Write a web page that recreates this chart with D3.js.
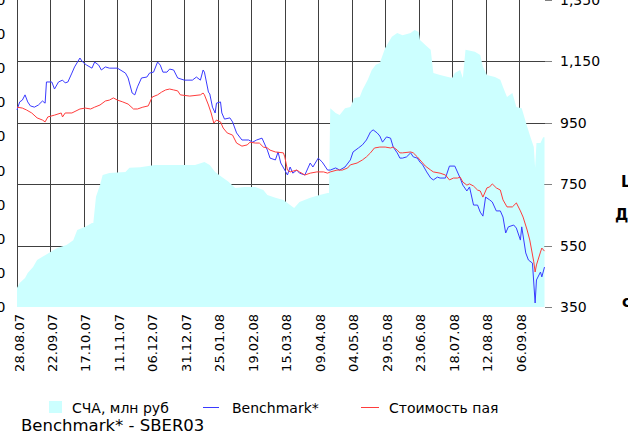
<!DOCTYPE html>
<html><head><meta charset="utf-8">
<script src="https://cdn.jsdelivr.net/npm/d3@7"></script>
<style>
body{margin:0;background:#fff;}
svg{display:block;font-family:"DejaVu Sans",Verdana,sans-serif;}
</style>
</head><body>
<svg id="chart" width="628" height="437"></svg>
<script>
// ---- data ----
const xTickLabels = ["28.08.07","22.09.07","17.10.07","11.11.07","06.12.07","31.12.07","25.01.08","19.02.08","15.03.08","09.04.08","04.05.08","29.05.08","23.06.08","18.07.08","12.08.08","06.09.08"];
const rightTicks = [350,550,750,950,1150,1350];
const gridValues = [550,750,950,1150];
const leftTicks = [0,100,200,300,400,500,600,700,800,900];
const seriesNames = ["СЧА, млн руб","Benchmark*","Стоимость пая"];
const titleText = "Benchmark* - SBER03";

// СЧА, млн руб (left axis)
const navSeries = [
["2007-08-28",56],["2007-08-30",70],["2007-09-03",85],["2007-09-05",100],["2007-09-09",117],["2007-09-12",138],["2007-09-16",147],["2007-09-22",161],["2007-09-27",173],["2007-10-04",182],["2007-10-09",196],["2007-10-12",226],["2007-10-18",235],["2007-10-23",246],["2007-10-24",246],["2007-10-26",323],["2007-10-29",358],["2007-10-31",387],["2007-11-05",393],["2007-11-17",396],["2007-11-20",408],["2007-11-28",410],["2007-12-09",416],["2007-12-24",416],["2008-01-08",416],["2008-01-15",425],["2008-01-19",416],["2008-01-23",396],["2008-01-24",393],["2008-01-28",381],["2008-02-02",367],["2008-02-07",349],["2008-02-14",352],["2008-02-22",352],["2008-02-28",343],["2008-03-02",328],["2008-03-08",320],["2008-03-14",314],["2008-03-19",299],["2008-03-22",290],["2008-03-26",308],["2008-04-03",320],["2008-04-10",328],["2008-04-16",334],["2008-04-17",334],["2008-04-18",583],["2008-04-22",569],["2008-04-25",563],["2008-04-29",583],["2008-05-03",586],["2008-05-06",613],["2008-05-10",616],["2008-05-12",636],["2008-05-16",666],["2008-05-19",695],["2008-05-22",710],["2008-05-25",715],["2008-05-29",759],["2008-06-03",792],["2008-06-07",803],["2008-06-11",797],["2008-06-17",803],["2008-06-20",812],["2008-06-23",806],["2008-06-24",783],["2008-06-28",768],["2008-07-02",754],["2008-07-04",686],["2008-07-09",680],["2008-07-15",674],["2008-07-18",671],["2008-07-20",686],["2008-07-24",695],["2008-07-26",671],["2008-07-28",754],["2008-08-04",748],["2008-08-08",739],["2008-08-10",704],["2008-08-13",680],["2008-08-19",674],["2008-08-23",666],["2008-08-25",645],["2008-08-28",616],["2008-09-01",627],["2008-09-04",586],["2008-09-08",583],["2008-09-11",542],["2008-09-14",504],["2008-09-17",469],["2008-09-18",408],["2008-09-19",481],["2008-09-22",481],["2008-09-24",498],["2008-09-25",498]
];

// Benchmark* (right axis)
const benchmarkSeries = [
["2007-08-28",992],["2007-08-30",1018],["2007-09-01",1024],["2007-09-03",1041],["2007-09-05",1018],["2007-09-07",1005],["2007-09-10",1001],["2007-09-13",1008],["2007-09-16",1021],["2007-09-18",1014],["2007-09-19",1083],["2007-09-23",1083],["2007-09-25",1060],["2007-09-28",1083],["2007-10-01",1089],["2007-10-03",1080],["2007-10-05",1083],["2007-10-08",1112],["2007-10-10",1132],["2007-10-14",1161],["2007-10-16",1148],["2007-10-19",1138],["2007-10-23",1128],["2007-10-25",1148],["2007-10-28",1138],["2007-10-30",1122],["2007-11-02",1132],["2007-11-05",1128],["2007-11-11",1128],["2007-11-17",1112],["2007-11-19",1096],["2007-11-22",1047],["2007-11-24",1041],["2007-11-26",1067],["2007-11-29",1096],["2007-12-03",1099],["2007-12-05",1112],["2007-12-08",1115],["2007-12-11",1148],["2007-12-13",1138],["2007-12-15",1115],["2007-12-18",1115],["2007-12-20",1125],["2007-12-23",1122],["2007-12-26",1096],["2007-12-31",1089],["2008-01-06",1089],["2008-01-09",1099],["2008-01-12",1089],["2008-01-14",1122],["2008-01-15",1115],["2008-01-18",1050],["2008-01-19",1044],["2008-01-21",1001],["2008-01-23",982],["2008-01-24",1014],["2008-01-27",1018],["2008-01-28",982],["2008-01-30",962],["2008-02-03",966],["2008-02-05",953],["2008-02-08",917],["2008-02-12",894],["2008-02-17",894],["2008-02-20",887],["2008-02-23",894],["2008-02-27",900],["2008-03-02",861],["2008-03-04",835],["2008-03-08",829],["2008-03-10",855],["2008-03-12",819],["2008-03-15",796],["2008-03-17",780],["2008-03-19",806],["2008-03-21",786],["2008-03-24",796],["2008-03-26",786],["2008-03-30",780],["2008-04-03",819],["2008-04-05",806],["2008-04-09",835],["2008-04-12",822],["2008-04-16",796],["2008-04-18",796],["2008-04-22",803],["2008-04-25",796],["2008-04-29",806],["2008-05-03",829],["2008-05-05",855],["2008-05-09",868],["2008-05-12",878],["2008-05-15",894],["2008-05-18",920],["2008-05-20",927],["2008-05-23",917],["2008-05-25",907],["2008-05-27",887],["2008-05-30",904],["2008-06-02",900],["2008-06-04",871],["2008-06-07",852],["2008-06-09",835],["2008-06-11",835],["2008-06-14",839],["2008-06-17",852],["2008-06-19",839],["2008-06-22",835],["2008-06-24",822],["2008-06-26",813],["2008-06-29",790],["2008-07-02",770],["2008-07-04",764],["2008-07-07",773],["2008-07-09",770],["2008-07-13",770],["2008-07-16",809],["2008-07-20",809],["2008-07-24",770],["2008-07-26",747],["2008-07-29",728],["2008-07-31",741],["2008-08-03",682],["2008-08-06",682],["2008-08-08",659],["2008-08-10",646],["2008-08-12",708],["2008-08-15",699],["2008-08-17",692],["2008-08-20",663],["2008-08-23",663],["2008-08-25",643],["2008-08-27",591],["2008-08-29",611],["2008-09-02",617],["2008-09-04",607],["2008-09-07",568],["2008-09-08",611],["2008-09-11",526],["2008-09-13",503],["2008-09-16",493],["2008-09-18",363],["2008-09-19",438],["2008-09-22",464],["2008-09-23",448],["2008-09-25",480]
];

// Стоимость пая (right axis)
const unitPriceSeries = [
["2007-08-28",1001],["2007-09-01",998],["2007-09-04",992],["2007-09-08",982],["2007-09-12",966],["2007-09-16",959],["2007-09-18",953],["2007-09-20",969],["2007-09-25",975],["2007-09-30",982],["2007-10-01",969],["2007-10-03",982],["2007-10-08",982],["2007-10-14",995],["2007-10-18",998],["2007-10-22",995],["2007-10-25",1001],["2007-10-29",1008],["2007-11-02",1021],["2007-11-05",1024],["2007-11-08",1031],["2007-11-11",1024],["2007-11-15",1018],["2007-11-19",1011],["2007-11-23",995],["2007-11-26",995],["2007-11-30",1001],["2007-12-04",1005],["2007-12-07",1034],["2007-12-11",1041],["2007-12-14",1050],["2007-12-17",1057],["2007-12-20",1060],["2007-12-23",1057],["2007-12-26",1054],["2007-12-28",1041],["2008-01-04",1037],["2008-01-12",1041],["2008-01-14",1047],["2008-01-15",1041],["2008-01-18",1008],["2008-01-20",982],["2008-01-22",949],["2008-01-24",959],["2008-01-27",953],["2008-01-29",933],["2008-02-01",917],["2008-02-05",910],["2008-02-08",884],["2008-02-12",874],["2008-02-16",878],["2008-02-18",887],["2008-02-22",884],["2008-02-25",884],["2008-02-28",871],["2008-03-02",868],["2008-03-04",861],["2008-03-08",855],["2008-03-14",852],["2008-03-15",839],["2008-03-17",796],["2008-03-19",790],["2008-03-24",796],["2008-03-26",790],["2008-03-30",780],["2008-04-03",786],["2008-04-08",790],["2008-04-13",790],["2008-04-16",786],["2008-04-18",790],["2008-04-23",796],["2008-04-27",796],["2008-05-01",803],["2008-05-03",813],["2008-05-08",819],["2008-05-12",829],["2008-05-15",839],["2008-05-18",852],["2008-05-21",868],["2008-05-25",871],["2008-05-29",871],["2008-06-02",868],["2008-06-04",871],["2008-06-07",861],["2008-06-09",852],["2008-06-11",852],["2008-06-17",855],["2008-06-19",852],["2008-06-22",839],["2008-06-24",829],["2008-06-28",809],["2008-07-02",796],["2008-07-04",790],["2008-07-09",786],["2008-07-13",780],["2008-07-16",764],["2008-07-19",770],["2008-07-22",770],["2008-07-24",773],["2008-07-26",757],["2008-07-29",747],["2008-07-31",751],["2008-08-03",744],["2008-08-06",731],["2008-08-08",728],["2008-08-10",708],["2008-08-13",738],["2008-08-15",741],["2008-08-17",751],["2008-08-20",738],["2008-08-23",731],["2008-08-25",699],["2008-08-28",676],["2008-09-01",676],["2008-09-04",689],["2008-09-07",663],["2008-09-09",643],["2008-09-12",601],["2008-09-14",568],["2008-09-17",497],["2008-09-18",464],["2008-09-19",487],["2008-09-22",529],["2008-09-23",542],["2008-09-25",532]
];

// ---- drawing ----
const parseISO = d3.utcParse("%Y-%m-%d");
const parseTick = d3.utcParse("%d.%m.%y");
const toPts = arr => arr.map(([d,v]) => ({date: parseISO(d), v}));
const nav = toPts(navSeries), bench = toPts(benchmarkSeries), price = toPts(unitPriceSeries);
const tickDates = xTickLabels.map(parseTick);

const svg = d3.select("#chart");
const plotLeft = 17, plotRight = 545, plotTop = 0, plotBottom = 307;

const x = d3.scaleUtc()
  .domain([parseISO("2007-08-28"), parseISO("2008-09-25")])
  .range([plotLeft, 544.5]);
const yR = d3.scaleLinear().domain([350,1350]).range([plotBottom, plotTop]);
const yL = d3.scaleLinear().domain([0,900]).range([plotBottom, plotTop]);

const crisp = v => Math.round(v) + 0.5;

// grid (beneath the area)
const grid = svg.append("g").attr("shape-rendering","crispEdges");
grid.selectAll("line.v").data(tickDates).enter().append("line")
  .attr("x1", d => crisp(x(d))).attr("x2", d => crisp(x(d)))
  .attr("y1", plotTop).attr("y2", plotBottom)
  .attr("stroke", "#404040").attr("stroke-width", 1);
grid.selectAll("line.h").data(gridValues).enter().append("line")
  .attr("x1", plotLeft).attr("x2", plotRight)
  .attr("y1", d => crisp(yR(d))).attr("y2", d => crisp(yR(d)))
  .attr("stroke", "#404040").attr("stroke-width", 1);

// area
svg.append("path").datum(nav)
  .attr("fill", "#ccffff")
  .attr("d", d3.area().x(d => x(d.date)).y0(yL(0)).y1(d => yL(d.v)));

// lines
const line = d3.line().x(d => x(d.date)).y(d => yR(d.v));
svg.append("path").datum(bench).attr("fill","none").attr("stroke","#3a3aff").attr("stroke-width",1).attr("d", line);
svg.append("path").datum(price).attr("fill","none").attr("stroke","#ff3c3c").attr("stroke-width",1).attr("d", line);

// right axis
const rAxis = svg.append("g").attr("transform", `translate(${plotRight},0)`)
  .call(d3.axisRight(yR).tickValues(rightTicks).tickFormat(d3.format(",")).tickSize(7).tickPadding(8));
rAxis.select(".domain").remove();
rAxis.selectAll("line").attr("stroke","#808080").attr("shape-rendering","crispEdges");
rAxis.selectAll("text").attr("font-size","14px").attr("font-family","DejaVu Sans").attr("fill","#000");

// left axis (labels mostly cropped)
const lAxis = svg.append("g").attr("transform", `translate(${plotLeft},0)`)
  .call(d3.axisLeft(yL).tickValues(leftTicks).tickSize(0).tickPadding(11.5));
lAxis.select(".domain").remove();
lAxis.selectAll("text").attr("font-size","14px").attr("font-family","DejaVu Sans").attr("fill","#000");

// bottom axis with rotated labels
const bAxis = svg.append("g").attr("transform", `translate(0,${plotBottom})`)
  .call(d3.axisBottom(x).tickValues(tickDates).tickFormat(d3.utcFormat("%d.%m.%y")).tickSize(0));
bAxis.select(".domain").remove();
bAxis.selectAll("text")
  .attr("x", 0).attr("y", 0).attr("dy", null)
  .attr("transform", "translate(6,7) rotate(-90)")
  .attr("text-anchor", "end")
  .attr("font-size", "13px").attr("font-family","DejaVu Sans").attr("fill","#000");

// legend
const lg = svg.append("g").attr("font-size","14px").attr("fill","#000");
lg.append("rect").attr("x",49).attr("y",401).attr("width",13).attr("height",12).attr("fill","#ccffff");
lg.append("text").attr("x",72).attr("y",413).text(seriesNames[0]);
lg.append("line").attr("x1",203).attr("x2",219).attr("y1",407.5).attr("y2",407.5).attr("stroke","#3a3aff");
lg.append("text").attr("x",232).attr("y",413).text(seriesNames[1]);
lg.append("line").attr("x1",361).attr("x2",379).attr("y1",407.5).attr("y2",407.5).attr("stroke","#ff3c3c");
lg.append("text").attr("x",389).attr("y",413).text(seriesNames[2]);

// title
svg.append("text").attr("x",21).attr("y",431).attr("font-size","16.5px").attr("fill","#000").text(titleText);

// cropped side labels
const side = svg.append("g").attr("font-size","15px").attr("font-weight","bold").attr("fill","#000");
side.append("text").attr("x",621).attr("y",187).text("L");
side.append("text").attr("x",615).attr("y",220).text("Д");
side.append("text").attr("x",622).attr("y",307).text("c");
</script>
</body></html>
